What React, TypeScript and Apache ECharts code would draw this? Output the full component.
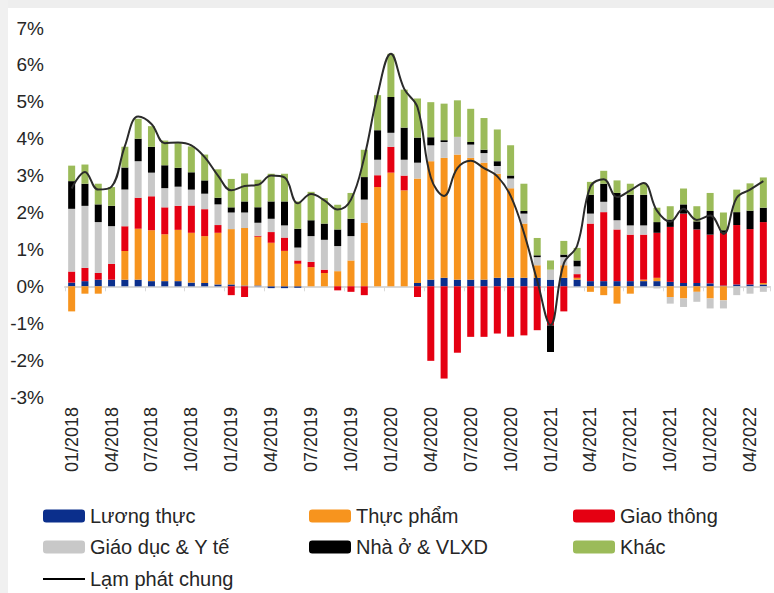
import React, { useEffect, useRef } from "react";
import * as echarts from "echarts";

const months: string[] = [
  "01/2018","02/2018","03/2018","04/2018","05/2018","06/2018","07/2018","08/2018","09/2018","10/2018","11/2018","12/2018",
  "01/2019","02/2019","03/2019","04/2019","05/2019","06/2019","07/2019","08/2019","09/2019","10/2019","11/2019","12/2019",
  "01/2020","02/2020","03/2020","04/2020","05/2020","06/2020","07/2020","08/2020","09/2020","10/2020","11/2020","12/2020",
  "01/2021","02/2021","03/2021","04/2021","05/2021","06/2021","07/2021","08/2021","09/2021","10/2021","11/2021","12/2021",
  "01/2022","02/2022","03/2022","04/2022","05/2022",
];

const luongThuc: number[] = [
  0.1, 0.14, 0.18, 0.18, 0.18, 0.18, 0.14, 0.14, 0.14, 0.1, 0.09, 0.05,
  0.05, 0.02, 0.02, -0.05, -0.05, -0.04, 0, 0, 0, 0, 0, 0,
  0, 0, 0.09, 0.18, 0.23, 0.18, 0.18, 0.18, 0.23, 0.23, 0.23, 0.23,
  0.18, 0.23, 0.18, 0.14, 0.14, 0.14, 0.14, 0.14, 0.14, 0.12, 0.09, 0.09,
  0.08, 0.02, 0.05, 0.05, 0.05,
];
const thucPham: number[] = [
  -0.68, -0.2, -0.2, 0, 0.78, 1.38, 1.38, 1.27, 1.39, 1.35, 1.27, 1.4,
  1.5, 1.56, 1.32, 1.18, 0.96, 0.61, 0.52, 0.36, 0.41, 0.7, 1.72, 2.69,
  3.08, 2.6, 2.83, 3.21, 3.25, 3.39, 3.3, 3.17, 2.82, 2.43, 1.47, 0.34,
  0, 0.34, 0.05, -0.15, -0.24, -0.47, -0.2, 0.04, 0.09, -0.29, -0.33, -0.15,
  -0.33, -0.38, 0, 0, 0.04,
];
const giaoThong: number[] = [
  0.3, 0.36, 0.18, 0.43, 0.67, 0.84, 0.92, 0.73, 0.65, 0.74, 0.73, 0.21,
  -0.24, -0.29, 0.03, 0.29, 0.36, 0.09, 0.14, 0.09, -0.11, -0.15, -0.24, 0.32,
  0.7, 0.4, -0.29, -2.02, -2.5, -1.8, -1.37, -1.37, -1.28, -1.37, -1.33, -1.19,
  -1.06, -0.68, 0.1, 1.56, 1.87, 1.4, 1.26, 1.22, 1.22, 1.49, 1.88, 1.45,
  1.32, 1.43, 1.61, 1.5, 1.65,
];
const giaoDucYTe: number[] = [
  1.7, 1.68, 1.38, 1.02, 0.99, 0.99, 0.64, 0.52, 0.52, 0.43, 0.42, 0.56,
  0.45, 0.42, 0.35, 0.36, 0.33, 0.35, 0.7, 0.81, 0.68, 0.66, 0.63, 0.42,
  0.38, 0.43, 0.43, 0.43, 0.43, 0.48, 0.36, 0.26, 0.21, 0.26, 0.27, 0.22,
  0.27, 0.22, 0.21, 0.27, 0.28, 0.25, 0.25, 0.25, -0.06, -0.18, -0.23, -0.27,
  -0.27, -0.22, -0.24, -0.2, -0.15,
];
const nhaO: number[] = [
  0.75, 0.6, 0.48, 0.55, 0.6, 0.61, 0.7, 0.62, 0.51, 0.47, 0.36, 0.18,
  0.14, 0.3, 0.42, 0.47, 0.65, 0.51, 0.43, 0.44, 0.45, 0.47, 0.61, 0.8,
  0.97, 0.87, 0.68, 0.22, 0.05, 0, 0.07, 0.09, 0.13, 0.08, 0.07, 0.05,
  -0.72, 0.07, 0.16, 0.51, 0.49, 0.74, 0.83, 0.83, 0.29, 0.2, 0.25, 0.22,
  0.64, 0.07, 0.35, 0.5, 0.39,
];
const khac: number[] = [
  0.42, 0.52, 0.56, 0.51, 0.56, 0.54, 0.56, 0.67, 0.67, 0.7, 0.7, 0.77,
  0.77, 0.76, 0.75, 0.75, 0.75, 0.74, 0.77, 0.69, 0.67, 0.7, 0.74, 0.95,
  1.17, 1.03, 1.06, 0.95, 0.99, 0.99, 0.9, 0.86, 0.86, 0.82, 0.74, 0.47,
  0.25, 0.37, 0.34, 0.35, 0.35, 0.34, 0.3, 0.3, 0.39, 0.36, 0.43, 0.41,
  0.49, 0.48, 0.61, 0.74, 0.82,
];
const lamPhatChung: number[] = [
  2.65, 3.1, 2.62, 2.7, 3.8, 4.6, 4.4, 3.88, 3.9, 3.82, 3.5, 3.0,
  2.6, 2.72, 2.75, 3.0, 2.95, 2.25, 2.5, 2.33, 2.08, 2.35, 3.5, 5.2,
  6.3, 5.35, 4.85, 2.95, 2.45, 3.2, 3.4, 3.2, 2.98, 2.45, 1.45, 0.15,
  -1.05, 0.62, 1.1, 2.7, 2.9, 2.42, 2.6, 2.8, 2.05, 1.75, 2.1, 1.8,
  1.92, 1.42, 2.4, 2.62, 2.85,
];

const FONT = "'Liberation Sans', Arial, sans-serif";
const TEXT = "#262626";

export default function App() {
  const ref = useRef<HTMLDivElement>(null);
  useEffect(() => {
    document.body.style.margin = "0";
    const chart = echarts.init(ref.current!, null, { renderer: "svg" });
    const bar = (name: string, data: number[], color: string) => ({
      name,
      type: "bar",
      stack: "total",
      data,
      barWidth: 7,
      itemStyle: { color },
      xAxisIndex: 0,
      yAxisIndex: 0,
    });
    const legendBase = {
      orient: "vertical",
      itemWidth: 42,
      itemHeight: 13,
      itemGap: 11,
      padding: 0,
      height: 120,
      textStyle: { fontSize: 20, color: TEXT, fontFamily: FONT },
      selectedMode: false,
      top: 506,
    };
    chart.setOption({
      animation: false,
      backgroundColor: "#ffffff",
      textStyle: { fontFamily: FONT },
      grid: { left: 65, right: 4, top: 28, bottom: 196, containLabel: false },
      graphic: [
        { type: "rect", shape: { x: 0, y: 0, width: 774, height: 8 }, style: { fill: "#eeeeee" }, silent: true },
        { type: "rect", shape: { x: 0, y: 0, width: 8, height: 593 }, style: { fill: "#f0f0f0" }, silent: true },
      ],
      legend: [
        { ...legendBase, left: 43, data: ["Lương thực", "Giáo dục & Y tế"] },
        { ...legendBase, left: 309, data: ["Thực phẩm", "Nhà ở & VLXD"] },
        { ...legendBase, left: 573, data: ["Giao thông", "Khác"] },
        {
          ...legendBase,
          left: 43,
          top: 569,
          itemHeight: 2,
          data: [{ name: "Lạm phát chung", icon: "rect", itemStyle: { color: "#000000" } }],
        },
      ],
      xAxis: [
        {
          type: "category",
          data: months,
          position: "bottom",
          boundaryGap: true,
          axisLine: { show: false, onZero: false },
          axisTick: { show: false },
          axisLabel: {
            interval: 2,
            rotate: 90,
            margin: 10,
            fontSize: 18,
            color: TEXT,
            fontFamily: FONT,
          },
          splitLine: { show: false },
        },
        {
          type: "category",
          data: months,
          position: "bottom",
          boundaryGap: true,
          axisLine: { show: true, onZero: true, lineStyle: { color: "#d9d9d9", width: 2 } },
          axisTick: { show: true, interval: 2, length: 5, lineStyle: { color: "#d9d9d9", width: 1 } },
          axisLabel: { show: false },
          splitLine: { show: false },
        },
      ],
      yAxis: {
        type: "value",
        min: -3,
        max: 7,
        interval: 1,
        axisLine: { show: false },
        axisTick: { show: false },
        splitLine: { show: false },
        axisLabel: {
          formatter: "{value}%",
          fontSize: 19,
          color: TEXT,
          fontFamily: FONT,
          margin: 21,
        },
      },
      series: [
        bar("Lương thực", luongThuc, "#0b2f8c"),
        bar("Thực phẩm", thucPham, "#f7941e"),
        bar("Giao thông", giaoThong, "#e50012"),
        bar("Giáo dục & Y tế", giaoDucYTe, "#c8c8c8"),
        bar("Nhà ở & VLXD", nhaO, "#000000"),
        bar("Khác", khac, "#9bbb59"),
        {
          name: "Lạm phát chung",
          type: "line",
          data: lamPhatChung,
          smooth: 0.4,
          symbol: "none",
          z: 10,
          lineStyle: { color: "#2b2b2b", width: 2 },
          itemStyle: { color: "#2b2b2b" },
          xAxisIndex: 0,
          yAxisIndex: 0,
        },
      ],
    });
    return () => chart.dispose();
  }, []);
  return <div ref={ref} style={{ width: 774, height: 593 }} />;
}
